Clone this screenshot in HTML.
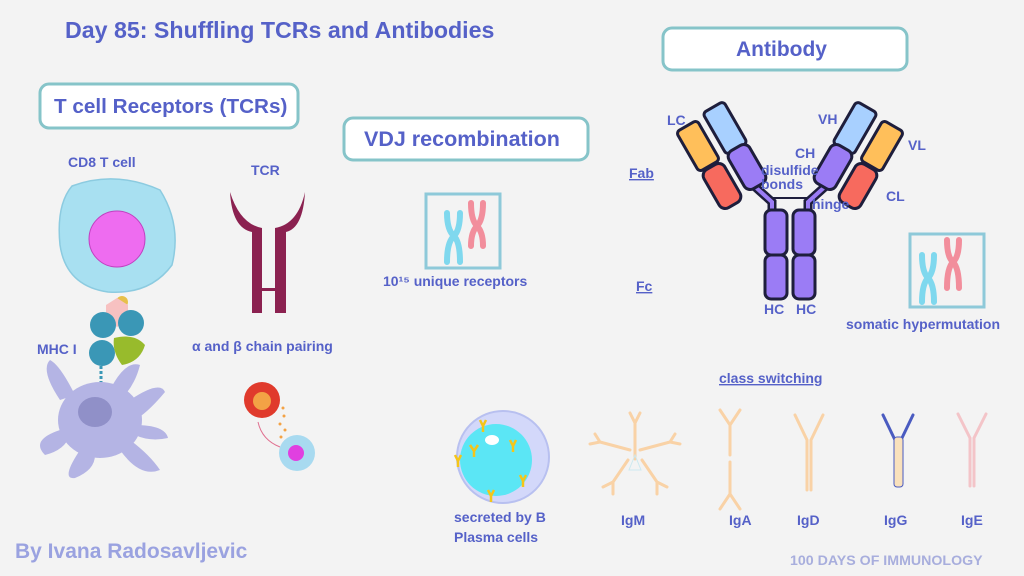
<!DOCTYPE html>
<html><head><meta charset="utf-8"><style>
html,body{margin:0;padding:0;background:#f3f3f3}
svg{display:block}
text{font-family:"Liberation Sans",sans-serif;font-weight:bold;fill:#5561c8}
</style></head><body>
<svg width="1024" height="576" viewBox="0 0 1024 576" xmlns="http://www.w3.org/2000/svg">
<rect width="1024" height="576" fill="#f3f3f3"/>
<text x="65" y="38" font-size="23.2">Day 85: Shuffling TCRs and Antibodies</text>

<!-- boxes -->
<rect x="40" y="84" width="258" height="44" rx="9" fill="#fff" stroke="#86c4c9" stroke-width="3"/>
<text x="54" y="113" font-size="20.7">T cell Receptors (TCRs)</text>
<rect x="344" y="118" width="244" height="42" rx="9" fill="#fff" stroke="#86c4c9" stroke-width="3"/>
<text x="364" y="146" font-size="21.5">VDJ recombination</text>
<rect x="663" y="28" width="244" height="42" rx="9" fill="#fff" stroke="#86c4c9" stroke-width="3"/>
<text x="736" y="56" font-size="21">Antibody</text>

<!-- TCR section -->
<text x="68" y="167" font-size="14">CD8 T cell</text>
<text x="251" y="175" font-size="14">TCR</text>
<text x="37" y="354" font-size="14">MHC I</text>
<text x="192" y="351" font-size="14">α and β chain pairing</text>

<!-- T cell -->
<path d="M72 186 Q115 170 160 190 Q182 225 172 265 Q150 295 108 292 Q66 286 60 245 Q56 205 72 186Z" fill="#a8e0f1" stroke="#8ccbe0" stroke-width="1.5"/>
<circle cx="117" cy="239" r="28" fill="#ee6cf0" stroke="#c040c0" stroke-width="1"/>
<!-- MHC complex -->
<circle cx="122" cy="302" r="6" fill="#e7c04a"/>
<polygon points="106,305 117,298 128,305 128,320 117,327 106,320" fill="#f7c1c1"/>
<circle cx="103" cy="325" r="13" fill="#3a97b6"/>
<circle cx="131" cy="323" r="13" fill="#3a97b6"/>
<circle cx="102" cy="353" r="13" fill="#3a97b6"/>
<path d="M114 338 Q135 333 145 345 Q140 362 122 365 Q112 352 114 338Z" fill="#98bb2c"/>
<line x1="101" y1="366" x2="101" y2="398" stroke="#3a97b6" stroke-width="3" stroke-dasharray="3 2"/>
<!-- dendritic cell -->
<g fill="#b4b4e4">
<ellipse cx="100" cy="420" rx="42" ry="38"/>
<path d="M60 400 Q40 370 50 360 Q60 365 75 395Z"/>
<path d="M60 430 Q30 440 45 455 Q65 450 70 435Z"/>
<path d="M80 450 Q60 480 75 478 Q95 470 95 455Z"/>
<path d="M120 450 Q140 478 160 470 Q150 455 130 440Z"/>
<path d="M130 400 Q160 380 165 392 Q150 410 138 418Z"/>
<path d="M110 390 Q125 360 140 365 Q135 385 122 398Z"/>
<path d="M135 425 Q165 425 168 438 Q150 442 135 435Z"/>
</g>
<ellipse cx="95" cy="412" rx="17" ry="15" fill="#9090c8"/>

<!-- TCR Y -->
<g fill="#8b2150">
<path d="M230 192 Q232 228 252 232 L252 313 L262 313 L262 228 Q240 224 230 192Z"/>
<path d="M305 192 Q303 228 286 232 L286 313 L275 313 L275 228 Q298 224 305 192Z"/>
<rect x="262" y="288" width="13" height="3"/>
</g>

<!-- small cells -->
<circle cx="262" cy="400" r="18" fill="#e03a2c"/>
<circle cx="262" cy="401" r="9" fill="#f3a245"/>
<g fill="#f3a245"><circle cx="283" cy="408" r="1.5"/><circle cx="284" cy="416" r="1.5"/><circle cx="280" cy="424" r="1.5"/><circle cx="285" cy="430" r="1.5"/><circle cx="281" cy="437" r="1.5"/></g>
<path d="M258 422 Q262 440 280 447" stroke="#e07090" fill="none"/>
<circle cx="297" cy="453" r="18" fill="#a8daf0"/>
<circle cx="296" cy="453" r="8" fill="#e040e0"/>

<!-- VDJ chromosome box -->
<rect x="426" y="194" width="74" height="74" fill="none" stroke="#8ec9d9" stroke-width="3"/>
<g stroke-width="6" stroke-linecap="round" fill="none">
<path d="M447 213 Q447 230 454 236 Q460 242 460 262 M460 213 Q460 230 454 236 Q447 242 447 262" stroke="#7fd8ee"/>
<path d="M471 203 Q471 220 477 226 Q483 232 483 246 M483 203 Q483 220 477 226 Q471 232 471 246" stroke="#f28e9c"/>
</g>
<text x="383" y="286" font-size="14">10¹⁵ unique receptors</text>

<!-- plasma cell -->
<circle cx="503" cy="457" r="46" fill="#d3d8fa" stroke="#b8c0f0" stroke-width="2"/>
<circle cx="496" cy="460" r="36" fill="#5be6f5"/>
<ellipse cx="492" cy="440" rx="7" ry="5" fill="#fff"/>
<g stroke="#f5c518" stroke-width="2.5" fill="none">
<path d="M480 420 l3 6 l3 -6 M483 426 v6"/><path d="M470 445 l4 6 l4 -6 M474 451 v6"/><path d="M510 440 l3 6 l3 -6 M513 446 v6"/><path d="M520 475 l3 6 l3 -6 M523 481 v6"/><path d="M455 455 l3 6 l3 -6 M458 461 v6"/><path d="M488 490 l3 6 l3 -6 M491 496 v6"/>
</g>
<text x="454" y="522" font-size="14">secreted by B</text>
<text x="454" y="542" font-size="14">Plasma cells</text>

<!-- Antibody -->
<text x="629" y="178" font-size="14" text-decoration="underline">Fab</text>
<text x="636" y="291" font-size="14" text-decoration="underline">Fc</text>
<g stroke="#1e1e3c" stroke-width="3">
<path d="M752 184 L772 202 L772 212 M828 184 L808 202 L808 212" fill="none" stroke-width="9"/>
<path d="M752 184 L772 202 L772 212 M828 184 L808 202 L808 212" fill="none" stroke="#9b7cf5" stroke-width="4"/>
<line x1="772" y1="198" x2="808" y2="198" stroke-width="2"/>
<rect x="765" y="210" width="22" height="45" rx="6" fill="#9b7cf5"/>
<rect x="765" y="255" width="22" height="44" rx="6" fill="#9b7cf5"/>
<rect x="793" y="210" width="22" height="45" rx="6" fill="#9b7cf5"/>
<rect x="793" y="255" width="22" height="44" rx="6" fill="#9b7cf5"/>
<g transform="translate(725,128) rotate(-30)"><rect x="-12" y="-24" width="24" height="48" rx="4" fill="#a8d0ff"/></g>
<g transform="translate(747,167) rotate(-30)"><rect x="-12" y="-22" width="24" height="44" rx="7" fill="#9b7cf5"/></g>
<g transform="translate(698,146) rotate(-30)"><rect x="-12" y="-23" width="24" height="46" rx="4" fill="#ffbf5a"/></g>
<g transform="translate(722,186) rotate(-30)"><rect x="-12" y="-22" width="24" height="44" rx="7" fill="#f76a5e"/></g>
<g transform="translate(855,128) rotate(30)"><rect x="-12" y="-24" width="24" height="48" rx="4" fill="#a8d0ff"/></g>
<g transform="translate(833,167) rotate(30)"><rect x="-12" y="-22" width="24" height="44" rx="7" fill="#9b7cf5"/></g>
<g transform="translate(882,146) rotate(30)"><rect x="-12" y="-23" width="24" height="46" rx="4" fill="#ffbf5a"/></g>
<g transform="translate(858,186) rotate(30)"><rect x="-12" y="-22" width="24" height="44" rx="7" fill="#f76a5e"/></g>
</g>
<text x="667" y="125" font-size="14">LC</text>
<text x="818" y="124" font-size="14">VH</text>
<text x="795" y="158" font-size="14">CH</text>
<text x="908" y="150" font-size="14">VL</text>
<text x="761" y="175" font-size="14">disulfide</text>
<text x="761" y="189" font-size="14">bonds</text>
<text x="812" y="209" font-size="14">hinge</text>
<text x="886" y="201" font-size="14">CL</text>
<text x="764" y="314" font-size="14">HC</text>
<text x="796" y="314" font-size="14">HC</text>

<rect x="910" y="234" width="74" height="73" fill="none" stroke="#8ec9d9" stroke-width="3"/>
<g stroke-width="6" stroke-linecap="round" fill="none">
<path d="M922 255 Q922 272 928 278 Q934 284 934 302 M934 255 Q934 272 928 278 Q922 284 922 302" stroke="#7fd8ee"/>
<path d="M947 240 Q947 257 953 262 Q959 268 959 288 M959 240 Q959 257 953 262 Q947 268 947 288" stroke="#f28e9c"/>
</g>
<text x="846" y="329" font-size="14">somatic hypermutation</text>

<!-- class switching -->
<text x="719" y="383" font-size="14" text-decoration="underline">class switching</text>
<g stroke-width="3" stroke-linecap="round" fill="none" stroke="#f9d2a6">
<path d="M635 423 v36 M635 423 l-5 -10 M635 423 l5 -10"/>
<path d="M630 450 l-30 -8 M600 442 l-5 -8 M600 442 l-10 2"/>
<path d="M640 450 l30 -8 M670 442 l5 -8 M670 442 l10 2"/>
<path d="M628 460 l-15 22 M613 482 l-10 5 M613 482 l0 12"/>
<path d="M642 460 l15 22 M657 482 l10 5 M657 482 l0 12"/>
<path d="M730 425 v30 M730 462 v32 M730 425 l-10 -15 M730 425 l10 -15 M730 494 l-10 15 M730 494 l10 15"/>
<path d="M807 440 v50 M811 440 v50 M807 440 l-12 -25 M811 440 l12 -25"/>
<path d="M970 438 v48 M974 438 v48 M970 438 l-12 -24 M974 438 l12 -24" stroke="#f3c4c8"/>
</g>
<path d="M635 455 l-6 15 l12 0 z" fill="none" stroke="#cde9f0"/>
<g stroke="#4a5bc0" stroke-width="3" stroke-linecap="round" fill="none">
<path d="M895 440 l-12 -25 M901 440 l12 -25"/></g>
<rect x="894" y="437" width="9" height="50" rx="3" fill="#f9e1bc" stroke="#4a5bc0"/>
<text x="621" y="525" font-size="14">IgM</text>
<text x="729" y="525" font-size="14">IgA</text>
<text x="797" y="525" font-size="14">IgD</text>
<text x="884" y="525" font-size="14">IgG</text>
<text x="961" y="525" font-size="14">IgE</text>

<text x="15" y="558" font-size="21" style="fill:#9aa2e0">By Ivana Radosavljevic</text>
<text x="790" y="565" font-size="14.2" style="fill:#a8aedd">100 DAYS OF IMMUNOLOGY</text>
</svg>
</body></html>
